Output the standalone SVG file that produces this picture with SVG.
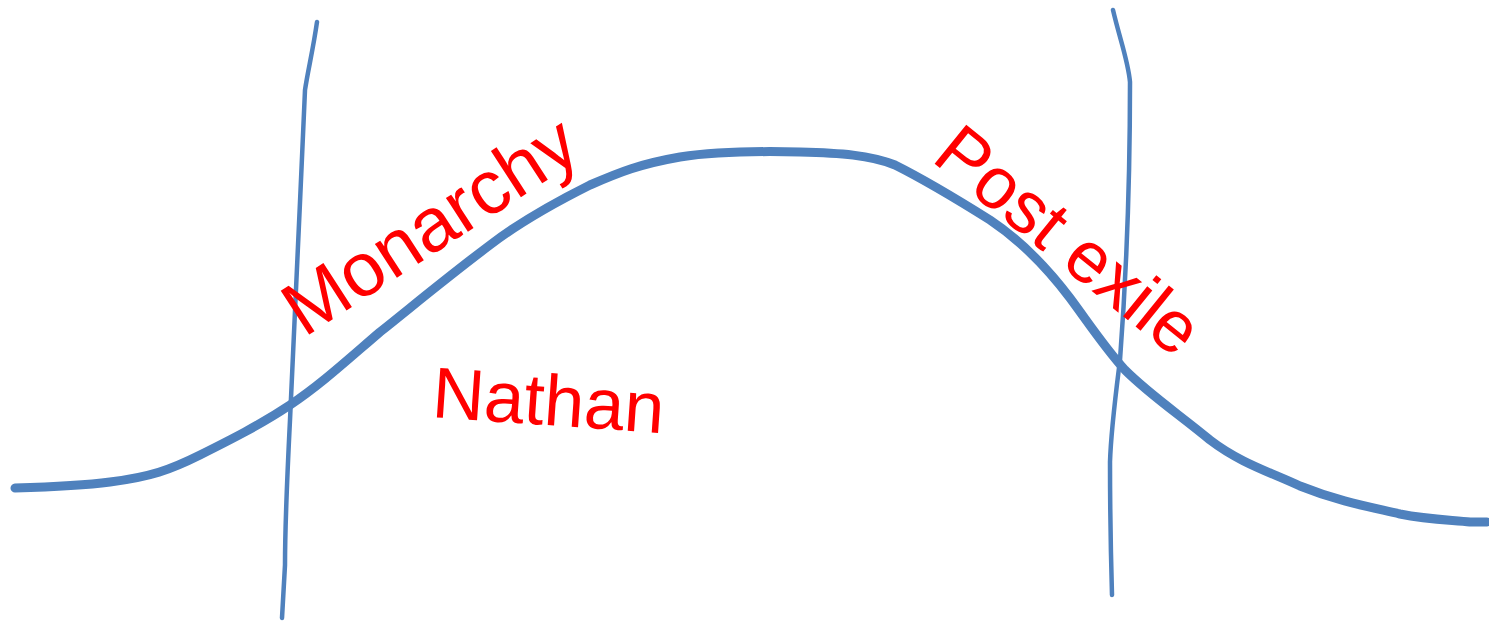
<svg xmlns="http://www.w3.org/2000/svg" width="1489" height="623" viewBox="0 0 1489 623">
<style>
.curve{fill:none;stroke:#4f81bd;stroke-width:9;stroke-linecap:round;stroke-linejoin:round}
.div{fill:none;stroke:#4f81bd;stroke-width:4.5;stroke-linecap:round;stroke-linejoin:round}
.lbl{font-family:"Liberation Sans",Arial,sans-serif;fill:#ff0000}
</style>
<rect width="1489" height="623" fill="#ffffff"/>
<g id="bell">
<path class="curve" d="M15,488 C50,487 80,486 110,482 C150,477 170,470 200,455 C230,440 260,425 290,405 C320,385 345,362 380,332 C420,300 450,275 490,245 C520,222 550,205 590,185 C620,172 640,164 680,157 C720,151 760,151 800,152 C840,153 870,155 895,165 C925,180 955,198 990,220 C1020,240 1045,265 1070,298 C1090,325 1105,348 1125,370 C1150,395 1180,415 1210,440 C1240,463 1270,472 1300,486 C1340,502 1370,507 1400,514 C1430,520 1455,520 1470,522 L1487,522"/>
</g>
<g id="divider-left">
<path class="div" d="M317,22 C313,50 308,70 305,90 C300,200 295,320 290,420 C287,480 285,530 285,565 L282,618"/>
</g>
<g id="divider-right">
<path class="div" d="M1113,10 C1120,40 1128,60 1130,82 C1130,180 1126,280 1120,360 C1115,400 1111,430 1110,462 C1110,510 1111,560 1112,595"/>
</g>
<g id="label-monarchy">
<text class="lbl" font-size="76" transform="translate(304,338) rotate(-33)">Monarchy</text>
</g>
<g id="label-postexile">
<text class="lbl" font-size="73" transform="translate(930,160) rotate(39)">Post exile</text>
</g>
<g id="label-nathan">
<text class="lbl" font-size="72" transform="translate(431,417) rotate(4)">Nathan</text>
</g>
</svg>
